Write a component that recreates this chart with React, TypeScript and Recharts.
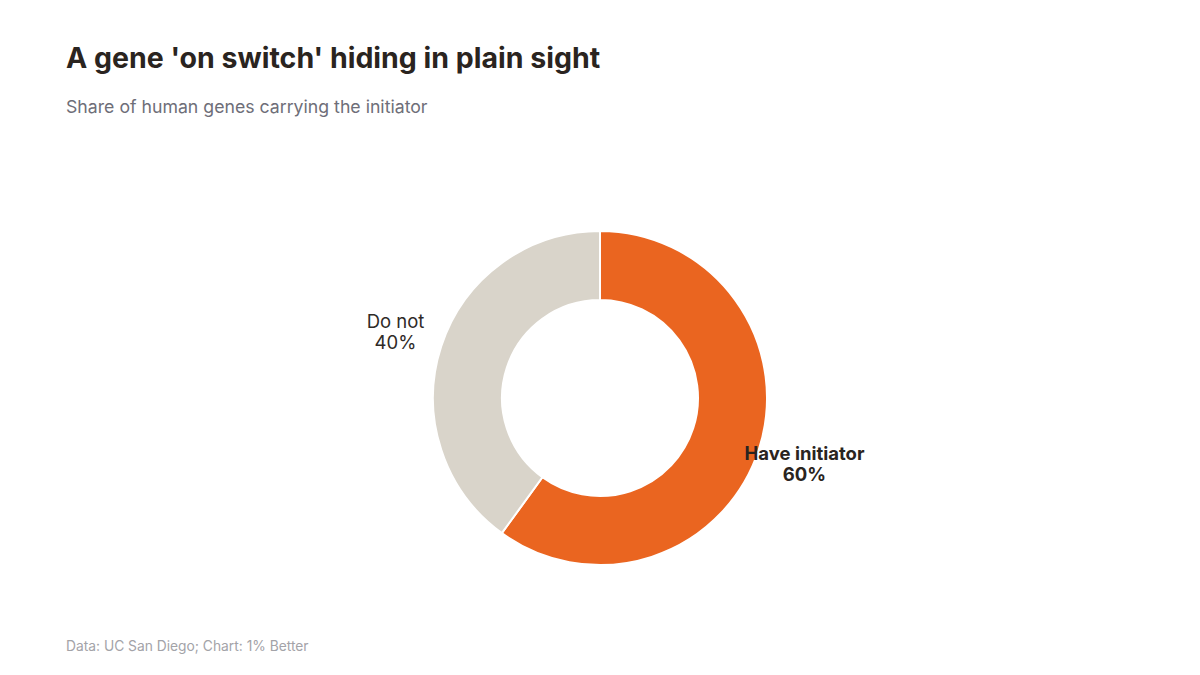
import { PieChart, Pie, Cell } from 'recharts';

const categories = ['Have initiator', 'Do not'];
const shares = [60, 40];
const sliceColors = ['#EA6520', '#D9D4CA'];

const data = categories.map((name, i) => ({ name, value: shares[i] }));

const RAD = Math.PI / 180;

function SliceLabel(props: any) {
  const { cx, cy, midAngle, outerRadius, name, value, index } = props;
  const r = outerRadius + 48;
  const x = cx + r * Math.cos(-midAngle * RAD);
  const y = cy + r * Math.sin(-midAngle * RAD);
  const bold = index === 0;
  return (
    <text
      x={x}
      y={y}
      textAnchor="middle"
      fill={bold ? '#2a2420' : '#2f2a27'}
      fontSize={18.5}
      fontWeight={bold ? 700 : 400}
      fontFamily="Inter, sans-serif"
    >
      <tspan x={x} dy={-4}>{name}</tspan>
      <tspan x={x} dy={21}>{`${value}%`}</tspan>
    </text>
  );
}

export default function App() {
  return (
    <div
      style={{
        position: 'absolute',
        left: 0,
        top: 0,
        width: 1200,
        height: 675,
        background: '#fff',
        fontFamily: 'Inter, sans-serif',
      }}
    >
      <div
        style={{
          position: 'absolute',
          left: 66,
          top: 40,
          fontSize: 28.5,
          fontWeight: 700,
          color: '#2a2420',
        }}
      >
        A gene 'on switch' hiding in plain sight
      </div>
      <div style={{ position: 'absolute', left: 66, top: 96, fontSize: 17.7, color: '#6e6e78' }}>
        Share of human genes carrying the initiator
      </div>
      <div style={{ position: 'absolute', left: 66, top: 638, fontSize: 13.8, color: '#a3a3a8' }}>
        Data: UC San Diego; Chart: 1% Better
      </div>
      <div style={{ position: 'absolute', left: 0, top: 0 }}>
        <PieChart width={1200} height={675} margin={{ top: 0, right: 0, bottom: 0, left: 0 }}>
          <Pie
            data={data}
            dataKey="value"
            nameKey="name"
            cx={600}
            cy={398}
            innerRadius={98}
            outerRadius={167}
            startAngle={90}
            endAngle={-270}
            stroke="#ffffff"
            strokeWidth={2}
            label={SliceLabel}
            labelLine={false}
            isAnimationActive={false}
          >
            {data.map((d, i) => (
              <Cell key={d.name} fill={sliceColors[i]} />
            ))}
          </Pie>
        </PieChart>
      </div>
    </div>
  );
}
